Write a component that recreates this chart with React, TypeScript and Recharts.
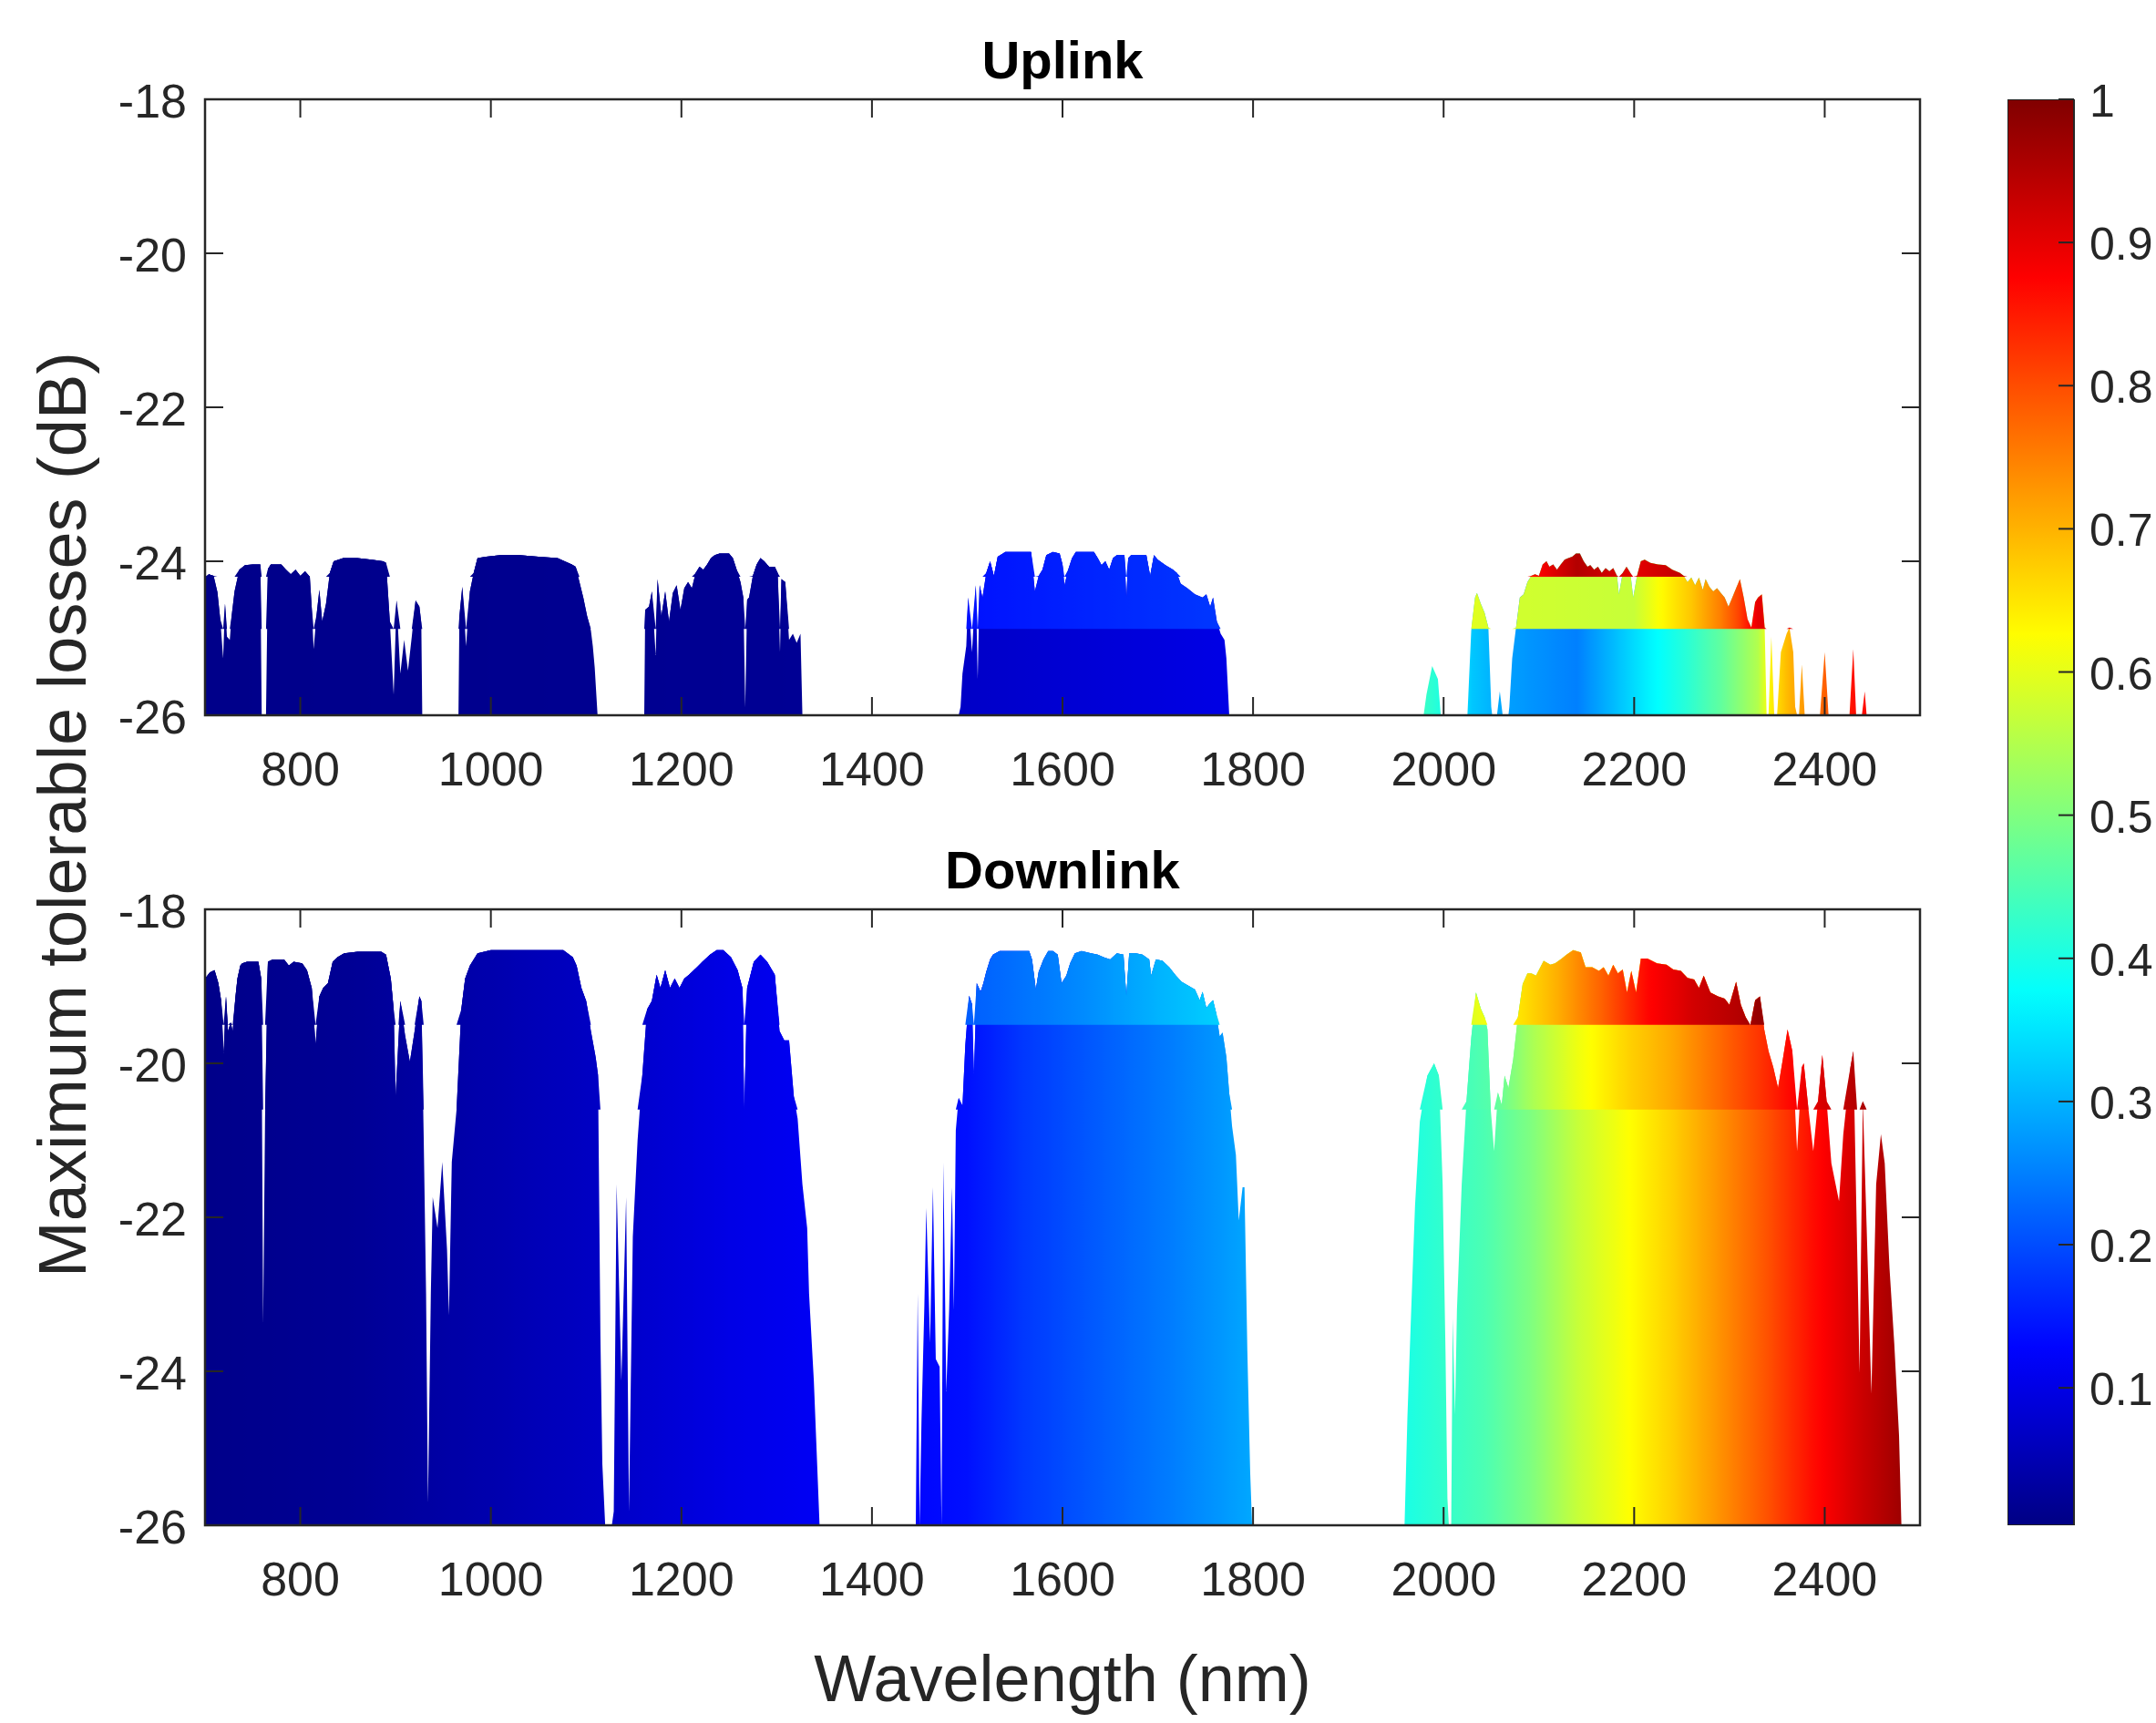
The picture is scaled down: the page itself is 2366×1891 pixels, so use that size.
import React from "react";
import { ComposedChart, Area, Bar, XAxis, YAxis, ReferenceArea } from "recharts";

// ---- data ----
// Uplink: wavelength (nm) and maximum tolerable loss (dB); -26 = below the axis floor
const upNm = [
  700, 704, 709, 713, 716, 719, 721, 723, 726, 728, 731, 736, 742, 750, 758, 759.5, 764, 766,
  769, 780, 785, 790, 795, 800, 805, 810, 812, 814, 817, 820, 823, 827, 831, 835, 845, 860, 875, 887, 890,
  894, 898, 901, 905, 909, 913, 917, 921, 925, 927, 928,
  966, 967, 970, 974, 978, 982, 986, 995, 1010, 1030, 1050, 1070, 1085, 1089, 1093, 1097, 1101, 1105, 1107, 1109, 1112,
  1161, 1162, 1166, 1169, 1173, 1175, 1179, 1183, 1187, 1191, 1195, 1199, 1203, 1207, 1211, 1215, 1219, 1223, 1227,
  1231, 1235, 1240, 1250, 1254, 1258, 1262, 1265, 1267, 1269, 1271, 1275, 1279, 1283, 1287, 1292, 1298, 1301, 1303.5,
  1305, 1309, 1313, 1317, 1321, 1325, 1327,
  1491, 1493, 1495, 1499, 1501, 1505, 1509, 1511, 1513, 1516, 1520, 1524, 1528, 1532, 1540, 1555, 1567, 1571, 1575,
  1579, 1583, 1590, 1597, 1600, 1602, 1606, 1610, 1614, 1633, 1637, 1641, 1645, 1649, 1653, 1657, 1665, 1667, 1669,
  1672, 1688, 1692, 1696, 1700, 1708, 1716, 1720, 1724, 1731, 1739, 1747, 1751, 1755, 1758, 1762, 1766, 1770, 1772, 1775,
  1979, 1982, 1988, 1994, 1997, 2025, 2029, 2033, 2035, 2039, 2043, 2047, 2050, 2051, 2056, 2059, 2062, 2068,
  2069, 2072, 2076, 2080, 2084, 2088, 2092, 2096, 2100, 2104, 2108, 2111, 2115, 2119, 2123, 2127, 2131, 2135, 2139,
  2143, 2147, 2151, 2154, 2158, 2162, 2166, 2170, 2174, 2178, 2182, 2184, 2188, 2192, 2196, 2199, 2203, 2207, 2211,
  2217, 2225, 2233, 2240, 2244, 2248, 2252, 2256, 2260, 2264, 2268, 2272, 2275, 2279, 2283, 2287, 2291, 2295, 2299,
  2303, 2307, 2311, 2315, 2319, 2323, 2327, 2330, 2334, 2337, 2339,
  2341, 2344, 2347, 2350, 2354, 2360, 2363, 2367, 2369, 2371, 2373, 2376, 2379, 2395, 2400, 2404, 2426, 2430, 2433,
  2439, 2442, 2444, 2500,
];
const upLoss = [
  -24.22, -24.17, -24.19, -24.4, -24.75, -25.26, -24.55, -24.98, -25.02, -24.7, -24.39, -24.11, -24.05, -24.04, -24.04, -26, -26, -24.1,
  -24.04, -24.04, -24.11, -24.17, -24.11, -24.19, -24.13, -24.2, -24.6, -25.14, -24.7, -24.37, -24.78, -24.55, -24.15, -24.0, -23.96, -23.96, -23.98, -24.0, -24.02,
  -24.78, -25.73, -24.51, -25.46, -25.02, -25.42, -24.98, -24.51, -24.59, -24.8, -26,
  -26, -24.71, -24.33, -25.1, -24.39, -24.15, -23.96, -23.94, -23.92, -23.92, -23.94, -23.96, -24.04, -24.07, -24.27, -24.47, -24.71, -24.9, -25.1, -25.38, -26,
  -26, -24.63, -24.59, -24.39, -25.22, -24.23, -24.71, -24.39, -24.78, -24.41, -24.31, -24.63, -24.35, -24.27, -24.35, -24.15, -24.07, -24.11, -24.04,
  -23.96, -23.92, -23.9, -23.9, -23.96, -24.11, -24.27, -24.47, -25.9, -24.5, -24.47, -24.19, -24.04, -23.96, -24.0, -24.07, -24.07, -24.15, -25.18,
  -24.23, -24.27, -25.02, -24.94, -25.06, -24.94, -26,
  -26, -25.89, -25.46, -25.1, -24.47, -25.18, -24.31, -25.53, -24.31, -24.47, -24.15, -24.0, -24.19, -23.94, -23.88, -23.88, -23.88, -24.39, -24.19,
  -24.11, -23.92, -23.88, -23.9, -24.04, -24.31, -24.11, -23.96, -23.88, -23.88, -23.96, -24.05, -24.0, -24.11, -23.96, -23.92, -23.92, -24.47, -23.96,
  -23.92, -23.92, -24.19, -23.92, -23.98, -24.05, -24.11, -24.15, -24.29, -24.35, -24.43, -24.47, -24.43, -24.59, -24.47, -24.78, -24.94, -25.02, -25.26, -26,
  -26, -25.73, -25.36, -25.53, -26, -26, -24.9, -24.47, -24.41, -24.55, -24.67, -24.86, -25.89, -26, -26, -25.69, -26, -26,
  -25.89, -25.26, -24.86, -24.47, -24.43, -24.27, -24.19, -24.17, -24.19, -24.04, -24.0, -24.07, -24.04, -24.11, -24.04, -23.98, -23.96, -23.94, -23.9,
  -23.9, -24.0, -24.07, -24.05, -24.11, -24.07, -24.15, -24.09, -24.13, -24.09, -24.19, -24.43, -24.15, -24.07, -24.15, -24.47, -24.19, -24.0, -23.98,
  -24.02, -24.04, -24.05, -24.11, -24.13, -24.15, -24.19, -24.27, -24.21, -24.31, -24.21, -24.37, -24.23, -24.33, -24.39, -24.35, -24.41, -24.47, -24.59,
  -24.47, -24.35, -24.23, -24.47, -24.75, -24.86, -24.53, -24.47, -24.43, -24.86, -26,
  -26, -24.98, -26, -26, -25.18, -24.94, -24.86, -25.18, -25.89, -26, -26, -25.34, -26, -26, -25.18, -26, -26, -25.14, -26,
  -26, -25.69, -26, -26,
];

// Downlink
const dnNm = [
  700, 705, 710, 714, 717, 719.5, 722, 724, 727, 729, 732, 734, 737, 739, 744, 756, 759, 761, 763, 766, 771, 783, 788,
  793, 802, 807, 812, 816, 820, 824, 829, 834, 839, 846, 860, 875, 885, 890, 895, 898, 900, 903, 905, 910, 915, 920,
  925, 927, 929.5, 932, 934, 937, 939, 944, 949, 954, 956, 959, 964, 969, 973, 978, 986, 1000, 1030, 1060, 1076, 1086,
  1090, 1095, 1100, 1105, 1110, 1112.5, 1115, 1117, 1120, 1127, 1129, 1132, 1137, 1142, 1145, 1149, 1154, 1159, 1164,
  1169, 1174, 1178, 1183, 1188, 1193, 1198, 1203, 1208, 1213, 1218, 1222, 1230, 1237, 1244, 1252, 1259, 1264, 1266,
  1269, 1276, 1283, 1290, 1298, 1303, 1308, 1313, 1318, 1322, 1327, 1332, 1334, 1339, 1343, 1345,
  1446, 1448, 1450, 1452, 1455, 1457, 1461, 1464, 1467, 1471, 1473, 1475, 1478, 1481, 1484, 1486, 1488, 1491, 1495,
  1498, 1502, 1505, 1507, 1510, 1514, 1517, 1520, 1524, 1527, 1534, 1550, 1565, 1568, 1572, 1575, 1580, 1585, 1590,
  1595, 1599, 1604, 1608, 1613, 1620, 1630, 1637, 1643, 1650, 1657, 1664, 1667, 1670, 1677, 1684, 1691, 1693, 1698,
  1705, 1712, 1719, 1725, 1732, 1739, 1744, 1747, 1751, 1754, 1758, 1761, 1765, 1768, 1772, 1775, 1778, 1782, 1785,
  1789, 1791, 1794, 1797, 1799,
  1959, 1962, 1966, 1970, 1975, 1983, 1990, 1995, 1999, 2002, 2004, 2005.5, 2008, 2009.5, 2012, 2014, 2019, 2024,
  2029, 2034, 2039, 2043, 2046, 2049.5, 2053, 2057, 2061, 2064, 2068, 2073, 2078, 2083, 2088, 2092, 2097, 2105, 2112,
  2117, 2124, 2129, 2136, 2144, 2149, 2156, 2163, 2168, 2173, 2178, 2183, 2188, 2192.5, 2197, 2202, 2207, 2214, 2224,
  2234, 2241, 2249, 2256, 2263, 2268, 2273, 2280, 2288, 2295, 2300, 2307, 2312, 2317, 2322, 2327, 2332, 2336.5, 2341,
  2346, 2351, 2356, 2361, 2366, 2371, 2376, 2378, 2383, 2388, 2393, 2397.5, 2402, 2407, 2415, 2419.5, 2427, 2430,
  2434, 2436.6, 2440, 2444, 2449, 2454, 2459, 2463, 2468, 2473, 2478, 2480.5, 2500,
];
const dnLoss = [
  -18.9, -18.82, -18.79, -18.96, -19.19, -19.87, -19.13, -19.58, -19.47, -19.58, -19.13, -18.9, -18.73, -18.7, -18.68, -18.68, -18.9, -23.38, -20.72, -18.68, -18.65, -18.65, -18.73,
  -18.68, -18.7, -18.79, -19.02, -19.75, -19.13, -19.02, -18.96, -18.68, -18.62, -18.57, -18.55, -18.55, -18.55, -18.59, -18.9, -19.3, -20.43, -19.7, -19.19, -19.64, -19.98, -19.58,
  -19.13, -19.19, -20.94, -22.99, -25.71, -22.99, -21.74, -22.14, -21.28, -22.42, -23.27, -21.28, -20.6, -19.3, -18.9, -18.73, -18.57, -18.53, -18.53, -18.53, -18.53, -18.62,
  -18.73, -19.02, -19.19, -19.58, -19.92, -20.15, -23.55, -25.2, -26, -26, -25.82, -21.57, -24.12, -21.74, -25.82, -22.25, -21.0, -20.15, -19.3,
  -19.19, -18.85, -19.02, -18.79, -19.02, -18.9, -19.02, -18.9, -18.85, -18.79, -18.73, -18.68, -18.59, -18.53, -18.53, -18.62, -18.79, -19.02, -20.6,
  -19.02, -18.68, -18.59, -18.68, -18.85, -19.58, -19.7, -19.7, -20.43, -20.72, -21.57, -22.14, -22.99, -24.12, -25.37, -26,
  -26, -22.99, -26, -24.63, -23.15, -21.88, -23.63, -21.61, -23.84, -23.94, -26, -21.29, -24.26, -23.2, -21.61, -23.2, -20.87, -20.45, -20.55,
  -19.76, -19.12, -19.23, -20.13, -18.96, -19.07, -18.96, -18.81, -18.65, -18.59, -18.54, -18.54, -18.54, -18.65, -19.04, -18.81, -18.65, -18.54, -18.54,
  -18.59, -18.96, -18.86, -18.7, -18.57, -18.54, -18.57, -18.59, -18.62, -18.65, -18.57, -18.59, -19.12, -18.57, -18.57, -18.59, -18.65, -18.86, -18.65,
  -18.67, -18.75, -18.86, -18.94, -18.99, -19.04, -19.18, -19.07, -19.28, -19.23, -19.18, -19.33, -19.65, -19.6, -19.92, -20.39, -20.82, -21.19, -22.04,
  -21.61, -21.61, -23.73, -25.32, -26,
  -26, -24.6, -23.2, -21.85, -20.76, -20.16, -20.0, -20.16, -21.57, -23.75, -25.65, -26, -26, -23.31, -24.56, -23.2, -21.57, -20.49,
  -19.67, -19.08, -19.29, -19.4, -19.56, -20.6, -21.14, -20.38, -20.54, -20.16, -20.32, -19.95, -19.4, -18.97, -18.83, -18.83, -18.86, -18.67, -18.72,
  -18.7, -18.64, -18.59, -18.53, -18.56, -18.75, -18.75, -18.8, -18.75, -18.86, -18.72, -18.83, -18.78, -19.08, -18.8, -19.08, -18.64, -18.64, -18.7,
  -18.72, -18.78, -18.8, -18.89, -18.91, -19.02, -18.86, -19.08, -19.13, -19.16, -19.24, -18.94, -19.24, -19.4, -19.51, -19.18, -19.13, -19.56, -19.84,
  -20.05, -20.32, -19.95, -19.56, -19.84, -21.14, -20.05, -20.0, -20.6, -21.14, -20.49, -19.89, -20.49, -21.3, -21.79, -20.92, -20.05, -19.84,
  -22.39, -24.02, -20.49, -22.12, -24.29, -21.57, -20.92, -21.3, -22.66, -23.64, -24.83, -26, -26,
];

// colour value (colorbar units) along the wavelength: [nm, value]
// lower body / middle band / top band of each panel
const upBaseTone = [[700, 0.01], [1330, 0.02], [1490, 0.07], [1775, 0.1], [1980, 0.43], [2000, 0.4], [2030, 0.32], [2070, 0.28], [2140, 0.25], [2213, 0.36], [2252, 0.41], [2291, 0.47], [2330, 0.55], [2344, 0.64], [2363, 0.7], [2376, 0.72], [2400, 0.78], [2430, 0.86], [2500, 0.88]];
const upMidTone = [[700, 0.01], [1330, 0.02], [1490, 0.14], [1775, 0.18], [1980, 0.43], [2020, 0.6], [2070, 0.58], [2200, 0.57], [2230, 0.63], [2260, 0.68], [2290, 0.75], [2310, 0.81], [2330, 0.9], [2500, 0.9]];
const upTopTone = [[700, 0.01], [1330, 0.02], [1490, 0.14], [1775, 0.18], [2000, 0.6], [2090, 0.86], [2140, 0.95], [2200, 0.9], [2240, 0.93], [2330, 0.95], [2500, 0.95]];
const dnBaseTone = [[700, 0.01], [850, 0.02], [1000, 0.045], [1150, 0.075], [1250, 0.1], [1345, 0.115], [1450, 0.13], [1500, 0.14], [1560, 0.18], [1650, 0.22], [1720, 0.25], [1800, 0.29], [1960, 0.4], [2044, 0.45], [2092, 0.5], [2141, 0.57], [2195, 0.625], [2239, 0.67], [2288, 0.73], [2336, 0.79], [2385, 0.86], [2434, 0.92], [2480, 0.97], [2500, 0.98]];
const dnMidTone = [[700, 0.01], [850, 0.02], [1000, 0.045], [1150, 0.075], [1250, 0.1], [1345, 0.115], [1450, 0.13], [1500, 0.14], [1560, 0.18], [1650, 0.22], [1720, 0.25], [1800, 0.29], [1960, 0.4], [2050, 0.46], [2092, 0.54], [2141, 0.61], [2195, 0.67], [2239, 0.71], [2288, 0.77], [2336, 0.83], [2385, 0.9], [2434, 0.95], [2480, 0.99], [2500, 0.99]];
const dnTopTone = [[700, 0.01], [850, 0.02], [1000, 0.045], [1150, 0.075], [1250, 0.1], [1345, 0.115], [1450, 0.2], [1540, 0.23], [1620, 0.26], [1700, 0.3], [1780, 0.335], [1800, 0.34], [1960, 0.45], [2034, 0.6], [2087, 0.66], [2117, 0.7], [2166, 0.78], [2214, 0.87], [2263, 0.92], [2312, 0.95], [2331, 0.98], [2360, 0.95], [2500, 0.95]];

// loss levels where the colour bands change
const upBands = [-24.88, -24.2];
const dnBands = [-20.6, -19.5];

const xTicks = [800, 1000, 1200, 1400, 1600, 1800, 2000, 2200, 2400];
const yTicks = [-26, -24, -22, -20, -18];
const cbTicks = [0.1, 0.2, 0.3, 0.4, 0.5, 0.6, 0.7, 0.8, 0.9, 1];
const cbRange = [{ name: "cb", v: [0.004, 1] }];

// ---- look ----
const FONT = '"Liberation Sans", Arial, Helvetica, sans-serif';
const AXIS = "#262626";
const PLOT_W = 1882;
const PLOT_H = 676;
const TICK = 20;

// MATLAB jet colormap
function jet(v: number) {
  const c = (t: number) => Math.round(255 * Math.max(0, Math.min(1, t)));
  return `rgb(${c(1.5 - Math.abs(4 * v - 3))},${c(1.5 - Math.abs(4 * v - 2))},${c(1.5 - Math.abs(4 * v - 1))})`;
}

function toneAt(stops: number[][], nm: number) {
  if (nm <= stops[0][0]) return stops[0][1];
  for (let i = 1; i < stops.length; i++) {
    if (nm <= stops[i][0]) {
      const [a, va] = stops[i - 1];
      const [b, vb] = stops[i];
      return va + ((vb - va) * (nm - a)) / (b - a);
    }
  }
  return stops[stops.length - 1][1];
}

// horizontal gradient across 700..2500 nm
function toneGradient(id: string, stops: number[][]) {
  const items = [];
  for (let nm = 700; nm <= 2500; nm += 5) {
    items.push(<stop key={nm} offset={(nm - 700) / 1800} stopColor={jet(toneAt(stops, nm))} />);
  }
  return (
    <linearGradient id={id} x1="0" y1="0" x2="1" y2="0">
      {items}
    </linearGradient>
  );
}

const XTick = ({ x, y, payload }: any) => (
  <g>
    <line x1={x} y1={y} x2={x} y2={y - TICK} stroke={AXIS} strokeWidth={2} />
    <line x1={x} y1={y - PLOT_H} x2={x} y2={y - PLOT_H + TICK} stroke={AXIS} strokeWidth={2} />
    <text x={x} y={y + 77} textAnchor="middle" fontSize={52} fill={AXIS} fontFamily={FONT}>
      {payload.value}
    </text>
  </g>
);

const YTick = ({ x, y, payload }: any) => (
  <g>
    <line x1={x} y1={y} x2={x + TICK} y2={y} stroke={AXIS} strokeWidth={2} />
    <line x1={x + PLOT_W} y1={y} x2={x + PLOT_W - TICK} y2={y} stroke={AXIS} strokeWidth={2} />
    <text x={x - 20} y={y + 20} textAnchor="end" fontSize={52} fill={AXIS} fontFamily={FONT}>
      {payload.value}
    </text>
  </g>
);

const CbTick = ({ x, y, payload }: any) => (
  <g>
    <line x1={x} y1={y} x2={x - 17} y2={y} stroke={AXIS} strokeWidth={2} />
    <text x={x + 17} y={y + 19} textAnchor="start" fontSize={50} fill={AXIS} fontFamily={FONT}>
      {payload.value}
    </text>
  </g>
);

function Panel({ id, nm, loss, bands, tones, top }: any) {
  const [midFrom, topFrom] = bands;
  const rows = nm.map((w: number, i: number) => ({
    nm: w,
    loss: loss[i],
    mid: [midFrom, Math.max(loss[i], midFrom)],
    top: [topFrom, Math.max(loss[i], topFrom)],
  }));
  return (
    <div style={{ position: "absolute", left: 0, top }}>
      <ComposedChart width={2130} height={900} data={rows} margin={{ top: 109, right: 23, bottom: 15, left: 0 }}>
        <defs>
          {toneGradient(`${id}-base`, tones[0])}
          {toneGradient(`${id}-mid`, tones[1])}
          {toneGradient(`${id}-top`, tones[2])}
        </defs>
        <XAxis
          type="number"
          dataKey="nm"
          domain={[700, 2500]}
          ticks={xTicks}
          interval={0}
          allowDataOverflow
          axisLine={false}
          tickLine={false}
          tickSize={0}
          tickMargin={0}
          height={100}
          tick={XTick}
        />
        <YAxis
          type="number"
          domain={[-26, -18]}
          ticks={yTicks}
          interval={0}
          allowDataOverflow
          axisLine={false}
          tickLine={false}
          tickSize={0}
          tickMargin={0}
          width={225}
          tick={YTick}
        />
        <Area type="linear" dataKey="loss" baseValue="dataMin" stroke="none" fill={`url(#${id}-base)`} fillOpacity={1} isAnimationActive={false} activeDot={false} />
        <Area type="linear" dataKey="mid" stroke="none" fill={`url(#${id}-mid)`} fillOpacity={1} isAnimationActive={false} activeDot={false} />
        <Area type="linear" dataKey="top" stroke="none" fill={`url(#${id}-top)`} fillOpacity={1} isAnimationActive={false} activeDot={false} />
        <ReferenceArea x1={700} x2={2500} y1={-26} y2={-18} fill="none" stroke={AXIS} strokeWidth={2.5} ifOverflow="visible" />
      </ComposedChart>
    </div>
  );
}

function Colorbar() {
  const stops = [];
  for (let i = 0; i <= 40; i++) {
    const v = 1 - (i / 40) * (1 - 0.004);
    stops.push(<stop key={i} offset={i / 40} stopColor={jet(v)} />);
  }
  return (
    <div style={{ position: "absolute", left: 2203, top: 0 }}>
      <ComposedChart width={163} height={1700} data={cbRange} margin={{ top: 109, right: 0, bottom: 26, left: 0 }} barCategoryGap={0}>
        <defs>
          <linearGradient id="jet-v" x1="0" y1="0" x2="0" y2="1">
            {stops}
          </linearGradient>
        </defs>
        <XAxis dataKey="name" hide />
        <YAxis
          orientation="right"
          type="number"
          domain={[0.004, 1]}
          ticks={cbTicks}
          interval={0}
          allowDataOverflow
          axisLine={false}
          tickLine={false}
          tickSize={0}
          tickMargin={0}
          width={90}
          tick={CbTick}
        />
        <Bar dataKey="v" fill="url(#jet-v)" stroke={AXIS} strokeWidth={2} isAnimationActive={false} />
      </ComposedChart>
    </div>
  );
}

export default function App() {
  return (
    <div style={{ position: "absolute", left: 0, top: 0, width: 2366, height: 1891, background: "#fff", overflow: "hidden" }}>
      <Panel id="up" nm={upNm} loss={upLoss} bands={upBands} tones={[upBaseTone, upMidTone, upTopTone]} top={0} />
      <Panel id="dn" nm={dnNm} loss={dnLoss} bands={dnBands} tones={[dnBaseTone, dnMidTone, dnTopTone]} top={889} />
      <Colorbar />
      <svg width={2366} height={1891} style={{ position: "absolute", left: 0, top: 0, pointerEvents: "none" }}>
        <text x={1166} y={86} textAnchor="middle" fontSize={58} fontWeight="bold" fill="#000" fontFamily={FONT}>
          Uplink
        </text>
        <text x={1166} y={975} textAnchor="middle" fontSize={58} fontWeight="bold" fill="#000" fontFamily={FONT}>
          Downlink
        </text>
        <text transform="translate(94,894) rotate(-90)" textAnchor="middle" fontSize={74} fill={AXIS} fontFamily={FONT}>
          Maximum tolerable losses (dB)
        </text>
        <text x={1166} y={1867} textAnchor="middle" fontSize={72} fill={AXIS} fontFamily={FONT}>
          Wavelength (nm)
        </text>
      </svg>
    </div>
  );
}
